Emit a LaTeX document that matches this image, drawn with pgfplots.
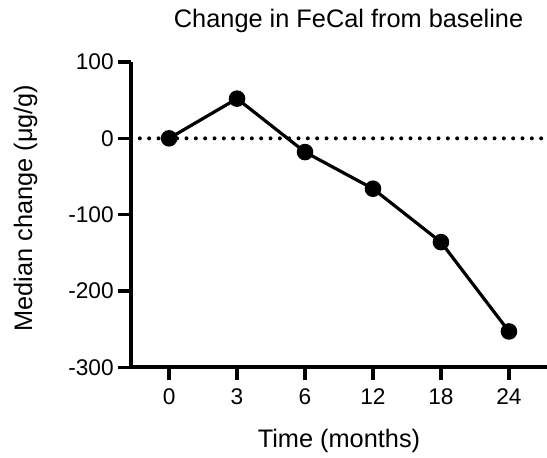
\documentclass[border=0pt]{standalone}
\usepackage{fontspec}
\setmainfont{Liberation Sans}
\usepackage{pgfplots}
\pgfplotsset{compat=1.18}

\begin{document}
\begin{tikzpicture}
\useasboundingbox (-98.25pt,-67.5pt) rectangle (312pt,275.5pt);
\begin{axis}[
    at={(0,0)}, anchor=south west,
    scale only axis,
    width=312pt, height=229pt,
    xmin=-0.56, xmax=5.56,
    ymin=-300, ymax=100,
    xtick={0,1,2,3,4,5},
    xticklabels={0,3,6,12,18,24},
    ytick={-300,-200,-100,0,100},
    axis lines*=left,
    axis line style={line width=3pt, -},
    tick style={line width=2.6pt, black},
    major tick length=9.5pt,
    tick align=outside,
    clip=false,
    /pgf/number format/assume math mode=true,
    tick label style={font=\fontsize{17}{19}\selectfont},
    xticklabel style={yshift=-3pt},
    yticklabel style={xshift=0pt},
]
\addplot[black, line width=3pt, dash pattern=on 0pt off 7pt, line cap=round, forget plot]
  coordinates {(-0.43,0) (5.56,0)};
\addplot[black, line width=2.4pt, mark=*, mark size=5pt]
  coordinates {(0,0) (1,52) (2,-18) (3,-66) (4,-136) (5,-253)};
\node[anchor=center, font=\fontsize{19}{21}\selectfont] at (rel axis cs:0.523,1) [yshift=31pt] {Change in FeCal from baseline};
\node[anchor=center, font=\fontsize{19}{21}\selectfont] at (rel axis cs:0.5,0) [yshift=-55.5pt] {Time (months)};
\node[anchor=center, font=\fontsize{19}{21}\selectfont] at (rel axis cs:0,0.5) [xshift=-79pt, yshift=5pt, rotate=90] {Median change (μg/g)};
\end{axis}
\end{tikzpicture}
\end{document}
